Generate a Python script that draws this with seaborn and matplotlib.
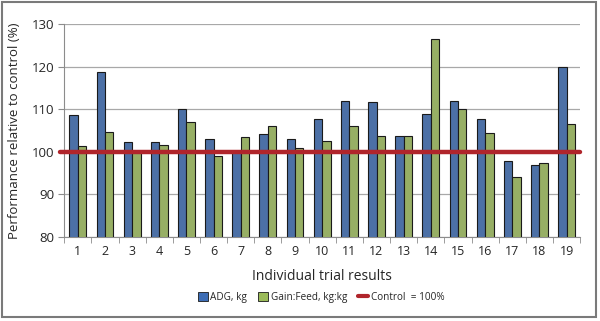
import matplotlib
matplotlib.use("Agg")
import matplotlib.pyplot as plt
import matplotlib.patches as mpatches
from matplotlib.lines import Line2D
from matplotlib.ticker import FixedLocator
import seaborn as sns
import pandas as pd

trials = [str(i) for i in range(1, 20)]
adg = [108.6, 118.7, 102.4, 102.4, 110.0, 102.9, 100.0, 104.2, 102.9, 107.8,
       111.9, 111.6, 103.6, 108.9, 111.9, 107.8, 97.9, 96.9, 120.0]
gain_feed = [101.4, 104.6, 100.0, 101.5, 107.0, 99.0, 103.5, 106.0, 101.0, 102.6,
             106.0, 103.6, 103.6, 126.4, 110.0, 104.4, 94.1, 97.4, 106.5]
series_names = ["ADG, kg", "Gain:Feed, kg:kg"]
control_level = 100
control_label = "Control  = 100%"

colors = ["#3D6DB5", "#9BBB59"]
red = "#B0252B"

df = pd.DataFrame({
    "trial": trials * 2,
    "value": adg + gain_feed,
    "series": [series_names[0]] * len(trials) + [series_names[1]] * len(trials),
})

sns.set_style("white")
plt.rcParams["font.family"] = ["Open Sans", "DejaVu Sans"]

fig = plt.figure(figsize=(6.0, 3.21), dpi=100)
ax = fig.add_axes([0.107, 0.262, 0.860, 0.663])

sns.barplot(data=df, x="trial", y="value", hue="series", palette=colors,
            width=0.62, edgecolor="#1a1a1a", linewidth=0.8, ax=ax,
            legend=False, zorder=3)

# control reference line, running slightly past the left axis
ax.axhline(control_level, xmin=-0.008, xmax=1.0, color=red, lw=3.2,
           zorder=4, clip_on=False)

ax.set_ylim(80, 130)
ax.set_xlim(-0.5, len(trials) - 0.5)
ax.set_yticks(range(80, 131, 10))
ax.yaxis.grid(True, color="#a8a8a8", lw=0.9, zorder=0)
ax.set_axisbelow(True)

for s in ["top", "right"]:
    ax.spines[s].set_visible(False)
ax.spines["left"].set_color("#8c8c8c")
ax.spines["bottom"].set_color("#8c8c8c")

ax.tick_params(axis="x", which="major", length=0, labelsize=9, pad=6)
ax.xaxis.set_minor_locator(FixedLocator([i - 0.5 for i in range(len(trials) + 1)]))
ax.tick_params(axis="x", which="minor", length=4, color="#8c8c8c", bottom=True)
ax.tick_params(axis="y", length=4, color="#8c8c8c", left=True, labelsize=9.5, pad=3)

ax.set_xlabel("Individual trial results", fontsize=10, labelpad=8)
ax.set_ylabel("Performance relative to control (%)", fontsize=9.5, labelpad=8)

handles = [
    mpatches.Patch(facecolor=colors[0], edgecolor="#1a1a1a", lw=0.6, label=series_names[0]),
    mpatches.Patch(facecolor=colors[1], edgecolor="#1a1a1a", lw=0.6, label=series_names[1]),
    Line2D([0], [0], color=red, lw=3, label=control_label),
]
fig.legend(handles=handles, loc="center", bbox_to_anchor=(0.535, 0.072), ncol=3,
           frameon=False, fontsize=7.2, handlelength=1.0, handleheight=1.0,
           handletextpad=0.25, columnspacing=1.1)

# outer chart border
fig.patches.append(mpatches.Rectangle((0.004, 0.012), 0.99, 0.982, transform=fig.transFigure,
                                      fill=False, edgecolor="#7a7a7a", lw=1.5))

fig.savefig("out.png", dpi=100)
